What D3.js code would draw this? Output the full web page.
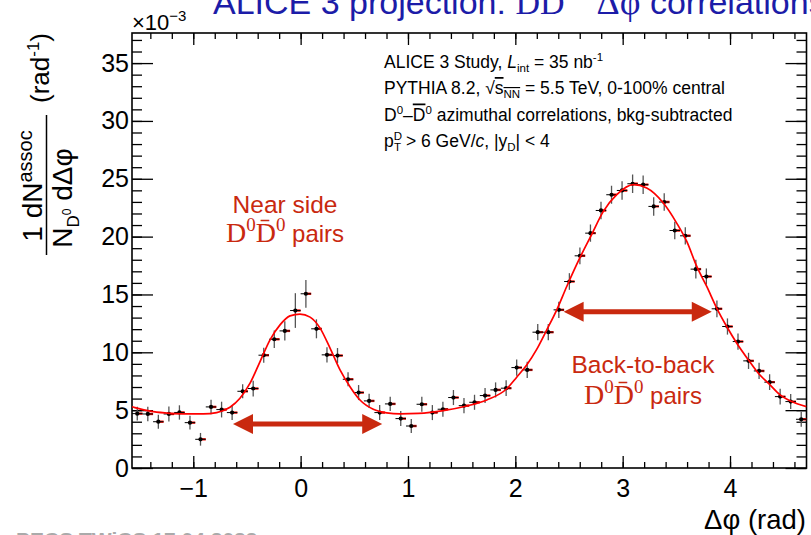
<!DOCTYPE html>
<html><head><meta charset="utf-8">
<script src="https://cdn.jsdelivr.net/npm/d3@7"></script>
<style>
html,body{margin:0;padding:0;background:#fff;overflow:hidden}
svg{display:block;font-family:"Liberation Sans",Arial,Helvetica,sans-serif}
</style></head><body>
<svg id="chart" width="811" height="535"></svg>
<script>
// D0–D0bar azimuthal correlation, bin centres (rad)
const dphi = [-1.5217,-1.4235,-1.3254,-1.2272,-1.1290,-1.0308,-0.9327,-0.8345,-0.7363,-0.6381,
  -0.5400,-0.4418,-0.3436,-0.2454,-0.1473,-0.0491,0.0491,0.1473,0.2454,0.3436,
  0.4418,0.5400,0.6381,0.7363,0.8345,0.9327,1.0308,1.1290,1.2272,1.3254,
  1.4235,1.5217,1.6199,1.7181,1.8162,1.9144,2.0126,2.1108,2.2089,2.3071,
  2.4053,2.5035,2.6016,2.6998,2.7980,2.8962,2.9943,3.0925,3.1907,3.2889,
  3.3870,3.4852,3.5834,3.6816,3.7797,3.8779,3.9761,4.0743,4.1724,4.2706,
  4.3688,4.4670,4.5651,4.6633];
// associated yield per bin (x 10^-3 rad^-1)
const yieldVals = [4.70,4.67,4.00,4.67,4.80,3.92,2.48,5.28,5.05,4.79,
  6.63,6.87,9.75,11.13,11.85,13.61,15.06,12.03,9.78,9.72,
  7.67,6.52,5.80,4.79,5.54,4.27,3.63,5.51,4.79,5.08,
  6.09,5.39,5.68,6.26,6.75,6.90,8.68,8.48,11.74,11.74,
  13.67,16.12,18.34,20.30,22.26,23.62,23.99,24.57,24.49,22.61,
  22.99,20.53,20.07,17.19,16.55,13.76,12.23,10.93,9.26,8.39,
  7.42,6.17,5.74,4.21];
// statistical uncertainties
const yieldErr = [0.60,0.62,0.60,0.65,0.62,0.60,0.55,0.63,0.68,0.65,
  0.60,0.68,0.65,0.75,0.84,1.50,1.20,0.82,0.66,0.65,
  0.60,0.65,0.62,0.65,0.62,0.65,0.60,0.65,0.65,0.65,
  0.65,0.65,0.65,0.65,0.65,0.68,0.70,0.70,0.70,0.70,
  0.70,0.72,0.72,0.75,0.75,0.78,0.80,0.80,0.80,0.80,
  0.76,0.75,0.75,0.80,0.70,0.72,0.70,0.70,0.70,0.70,
  0.68,0.68,0.65,0.65];
const binHalfWidth = 0.049;

// fitted function (baseline + near-side + away-side peaks)
const fitPhi = [-1.571,-1.543,-1.372,-1.217,-1.050,-0.906,-0.782,-0.658,-0.565,-0.471,
  -0.378,-0.285,-0.192,-0.099,-0.006,0.088,0.181,0.274,0.367,0.460,
  0.553,0.677,0.802,0.926,1.100,1.329,1.547,1.734,1.920,2.013,
  2.106,2.199,2.293,2.386,2.479,2.603,2.712,2.820,2.945,3.099,
  3.224,3.379,3.503,3.597,3.690,3.783,3.876,3.969,4.063,4.171,
  4.264,4.373,4.466,4.575,4.712];
const fitVals = [5.30,5.22,4.87,4.73,4.68,4.67,4.79,5.25,6.03,7.33,
  9.20,11.08,12.37,13.15,13.30,13.04,12.09,10.36,8.48,7.03,
  5.88,5.08,4.77,4.68,4.72,4.96,5.36,5.88,6.85,7.85,
  8.90,10.25,11.94,13.67,15.69,18.20,20.20,22.18,23.62,24.49,
  24.20,22.90,21.17,19.58,17.42,15.69,13.82,12.23,10.79,9.35,
  8.19,7.18,6.32,5.74,5.30];

const xTicks = [-1,0,1,2,3,4];
const xMinorTicks = d3.range(-14, 47, 2).map(v => v/10);
const yTicks = [0,5,10,15,20,25,30,35];
const yMinorTicks = d3.range(0, 38, 1);

// annotation arrows: [from, to] in Δφ, at a yield level
const nearArrow = {from:-0.63, to:0.76, level:3.8};
const awayArrow = {from:2.45, to:3.83, level:13.5};

const svg = d3.select("#chart");
const L = 132, R = 806.5, T = 33, B = 468;
const x = d3.scaleLinear().domain([-Math.PI/2, 3*Math.PI/2]).range([L, R]);
const y = d3.scaleLinear().domain([0, 37.6]).range([B, T]);

const annotColor = "#c9290f";
const serif = "'Liberation Serif','Times New Roman',serif";

// top title (partly outside the canvas)
const title = svg.append("text").attr("x",213).attr("y",13.5)
  .attr("fill","#1c1ca8").style("font-size","34px");
title.append("tspan").text("ALICE 3 projection: ");
title.append("tspan").style("font-family",serif).text("D");
title.append("tspan").style("font-family",serif).text("D\u0304");
title.append("tspan").attr("dy",-14).style("font-size","20px").style("font-family",serif).text("0");
title.append("tspan").attr("dy",14).attr("dx",22).style("font-family",serif).style("font-size","36px").text("\u0394\u03c6");
title.append("tspan").text(" correlations");

// axes: minor and major ticks on all four sides, pointing inwards
function ticks(axisGen, tr, vals, size, fmt, pad){
  const g = svg.append("g").attr("transform", tr)
    .call(axisGen.tickValues(vals).tickSize(-size).tickPadding(pad).tickFormat(fmt));
  g.select(".domain").remove();
  g.selectAll(".tick line").attr("stroke","#000").attr("stroke-width",1.3);
  return g;
}
const none = () => "";
ticks(d3.axisBottom(x), `translate(0,${B})`, xMinorTicks, 6, none, 0);
const xg = ticks(d3.axisBottom(x), `translate(0,${B})`, xTicks, 12, d3.format("d"), 11);
ticks(d3.axisTop(x), `translate(0,${T})`, xMinorTicks, 6, none, 0);
ticks(d3.axisTop(x), `translate(0,${T})`, xTicks, 12, none, 0);
ticks(d3.axisLeft(y), `translate(${L},0)`, yMinorTicks, 10, none, 0);
const yg = ticks(d3.axisLeft(y), `translate(${L},0)`, yTicks, 21, d3.format("d"), 3);
ticks(d3.axisRight(y), `translate(${R},0)`, yMinorTicks, 10, none, 0);
ticks(d3.axisRight(y), `translate(${R},0)`, yTicks, 21, none, 0);
[xg, yg].forEach(g => g.selectAll("text").attr("fill","#000")
  .style("font-size","25px").style("font-family","'Liberation Sans',Arial,sans-serif"));

// frame
svg.append("rect").attr("x",L).attr("y",T).attr("width",R-L).attr("height",B-T)
  .attr("fill","none").attr("stroke","#000").attr("stroke-width",1.6);

// exponent
const expo = svg.append("text").attr("x",132).attr("y",29.5).style("font-size","22px");
expo.append("tspan").text("\u00d710");
expo.append("tspan").attr("dy",-9).style("font-size","15px").text("\u22123");

// y axis title
const yl = svg.append("g").attr("transform","rotate(-90)");
const num = yl.append("text").attr("x",-186).attr("y",42).attr("text-anchor","middle").style("font-size","28px");
num.append("tspan").text("1 dN");
num.append("tspan").attr("dy",-10).style("font-size","20px").text("assoc");
yl.append("line").attr("x1",-255).attr("x2",-115).attr("y1",46.5).attr("y2",46.5)
  .attr("stroke","#000").attr("stroke-width",1.5);
const den = yl.append("text").attr("x",-198).attr("y",72).attr("text-anchor","middle").style("font-size","28px");
den.append("tspan").text("N");
den.append("tspan").attr("dy",7).style("font-size","17px").text("D");
den.append("tspan").attr("dy",-8).style("font-size","12px").text("0");
den.append("tspan").attr("dy",1).text(" d\u0394\u03c6");
const unit = yl.append("text").attr("x",-68).attr("y",49).attr("text-anchor","middle").style("font-size","26px");
unit.append("tspan").text("(rad");
unit.append("tspan").attr("dy",-10).style("font-size","17px").text("-1");
unit.append("tspan").attr("dy",10).text(")");

// x axis title
svg.append("text").attr("x",806).attr("y",529).attr("text-anchor","end")
  .style("font-size","27.5px").text("\u0394\u03c6 (rad)");

// info block
const info = svg.append("g").style("font-size","17.5px");
const l1 = info.append("text").attr("x",384).attr("y",67.5);
l1.append("tspan").text("ALICE 3 Study, ");
l1.append("tspan").style("font-style","italic").text("L");
l1.append("tspan").attr("dy",4).style("font-size","11.5px").text("int");
l1.append("tspan").attr("dy",-4).text(" = 35 nb");
l1.append("tspan").attr("dy",-7).style("font-size","11.5px").text("-1");
const l2 = info.append("text").attr("x",384).attr("y",94);
l2.append("tspan").text("PYTHIA 8.2, \u221a");
l2.append("tspan").style("text-decoration","overline").text("s");
l2.append("tspan").attr("dy",4).style("font-size","11.5px").style("text-decoration","overline").text("NN");
l2.append("tspan").attr("dy",-4).text(" = 5.5 TeV, 0-100% central");
const l3 = info.append("text").attr("x",384).attr("y",120.5);
l3.append("tspan").text("D");
l3.append("tspan").attr("dy",-7).style("font-size","11.5px").text("0");
l3.append("tspan").attr("dy",7).text("\u2013");
l3.append("tspan").style("text-decoration","overline").text("D");
l3.append("tspan").attr("dy",-7).style("font-size","11.5px").text("0");
l3.append("tspan").attr("dy",7).text(" azimuthal correlations, bkg-subtracted");
const l4 = info.append("text").attr("x",384).attr("y",147);
l4.append("tspan").text("p");
l4.append("tspan").attr("dy",-7).style("font-size","11.5px").text("D");
l4.append("tspan").attr("dy",11).attr("dx",-8).style("font-size","11.5px").text("T");
l4.append("tspan").attr("dy",-4).text(" > 6 GeV/");
l4.append("tspan").style("font-style","italic").text("c");
l4.append("tspan").text(", |y");
l4.append("tspan").attr("dy",4).style("font-size","11.5px").text("D");
l4.append("tspan").attr("dy",-4).text("| < 4");

// clip to the frame
svg.append("clipPath").attr("id","frame").append("rect")
  .attr("x",L).attr("y",T).attr("width",R-L).attr("height",B-T);
const plot = svg.append("g").attr("clip-path","url(#frame)");

// data points
const pts = dphi.map((d,i) => ({phi:d, v:yieldVals[i], e:yieldErr[i]}));
const gp = plot.append("g");
gp.selectAll("line.ev").data(pts).join("line").attr("class","ev")
  .attr("x1",d=>x(d.phi)).attr("x2",d=>x(d.phi))
  .attr("y1",d=>y(d.v-d.e)).attr("y2",d=>y(d.v+d.e))
  .attr("stroke","#555").attr("stroke-width",1.3);
gp.selectAll("line.hr").data(pts).join("line").attr("class","hr")
  .attr("x1",d=>x(d.phi-binHalfWidth*0.3)).attr("x2",d=>x(d.phi+binHalfWidth))
  .attr("y1",d=>y(d.v)).attr("y2",d=>y(d.v))
  .attr("stroke","#e8100a").attr("stroke-width",2.4);
gp.selectAll("line.hb").data(pts).join("line").attr("class","hb")
  .attr("x1",d=>x(d.phi-binHalfWidth)).attr("x2",d=>x(d.phi+binHalfWidth))
  .attr("y1",d=>y(d.v)).attr("y2",d=>y(d.v))
  .attr("stroke","#000").attr("stroke-width",1);

// fit curve
plot.append("path").datum(fitPhi.map((p,i)=>[p,fitVals[i]]))
  .attr("fill","none").attr("stroke","#ff0000").attr("stroke-width",1.7)
  .attr("d", d3.line().x(d=>x(d[0])).y(d=>y(d[1])).curve(d3.curveMonotoneX));

gp.selectAll("circle").data(pts).join("circle")
  .attr("cx",d=>x(d.phi)).attr("cy",d=>y(d.v)).attr("r",2.1).attr("fill","#000");

// double-headed arrows
function arrow(a){
  const x0 = x(a.from), x1 = x(a.to), yy = y(a.level);
  const head = 20, hw = 10, sw = 2.5;
  const p = [[x0,yy],[x0+head,yy-hw],[x0+head,yy-sw],[x1-head,yy-sw],[x1-head,yy-hw],
    [x1,yy],[x1-head,yy+hw],[x1-head,yy+sw],[x0+head,yy+sw],[x0+head,yy+hw]];
  svg.append("polygon").attr("points",p.map(q=>q.join(",")).join(" ")).attr("fill",annotColor);
}
arrow(nearArrow);
arrow(awayArrow);

// annotation labels
function pairLabel(cx, top, bottom, word){
  svg.append("text").attr("x",cx).attr("y",top).attr("text-anchor","middle")
    .attr("fill",annotColor).style("font-size","24.5px").text(word);
  const t = svg.append("text").attr("x",cx).attr("y",bottom).attr("text-anchor","middle")
    .attr("fill",annotColor).style("font-size","24px");
  t.append("tspan").style("font-family",serif).style("font-size","28px").text("D");
  t.append("tspan").attr("dy",-11).style("font-family",serif).style("font-size","19px").text("0");
  t.append("tspan").attr("dy",11).style("font-family",serif).style("font-size","28px").text("D\u0304");
  t.append("tspan").attr("dy",-11).style("font-family",serif).style("font-size","19px").text("0");
  t.append("tspan").attr("dy",11).text(" pairs");
}
pairLabel(285, 213, 242, "Near side");
pairLabel(643, 373, 404, "Back-to-back");

// footer (mostly below the canvas)
svg.append("text").attr("x",16).attr("y",546.5).attr("fill","#aaa")
  .style("font-size","21px").style("font-weight","bold").text("PECS TWiCS 17.04.2023");
</script>
</body></html>
